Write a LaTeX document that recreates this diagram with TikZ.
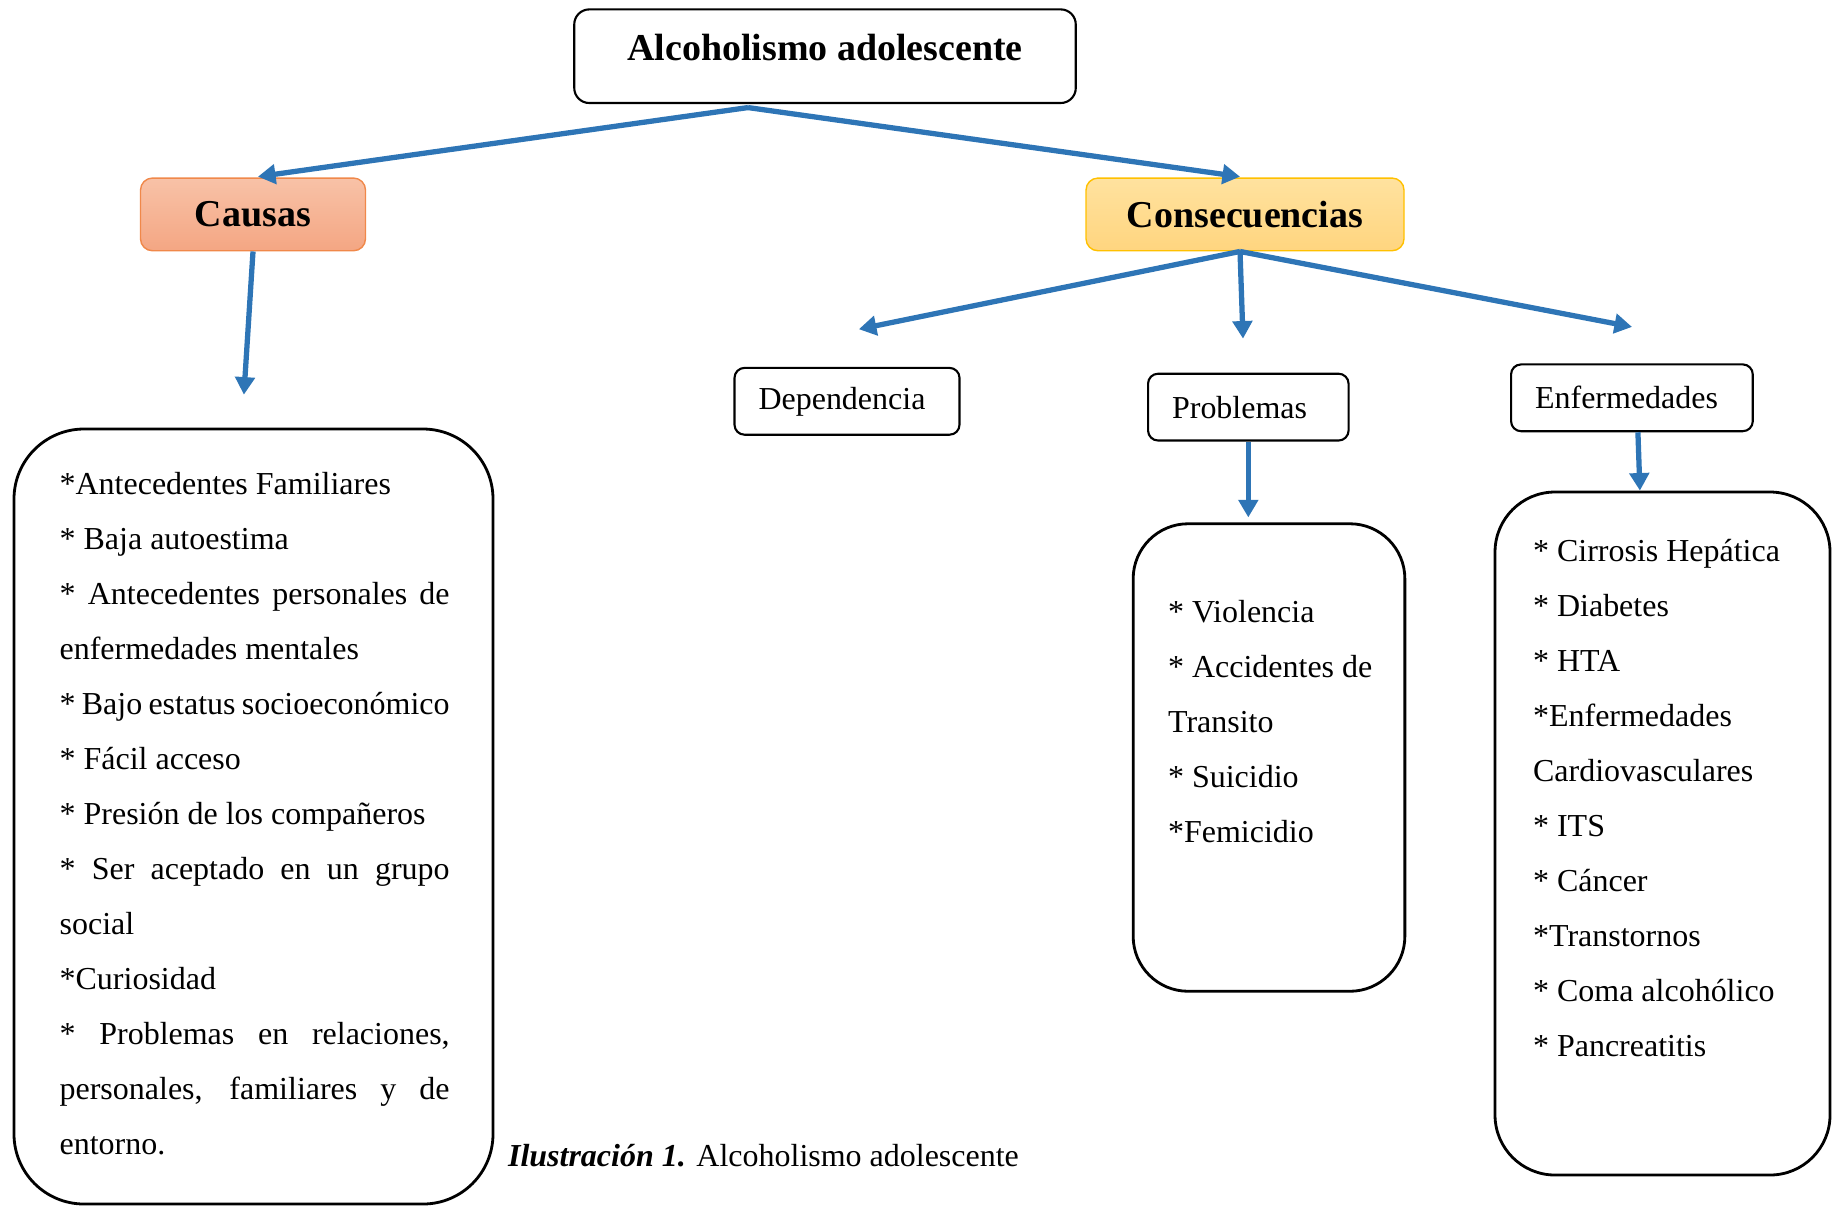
\documentclass[tikz,border=0pt]{standalone}
\usepackage{fontspec}
\setmainfont{Liberation Serif}
\usetikzlibrary{arrows.meta}
\definecolor{azulflecha}{HTML}{2E75B6}
\definecolor{naranjaborde}{HTML}{F0884A}
\definecolor{naranjaarriba}{HTML}{F8C2A7}
\definecolor{naranjaabajo}{HTML}{F4A683}
\definecolor{amarilloborde}{HTML}{FFC000}
\definecolor{amarilloarriba}{HTML}{FFE29F}
\definecolor{amarilloabajo}{HTML}{FFD57F}
\hyphenpenalty=10000
\exhyphenpenalty=10000

\begin{document}
\begin{tikzpicture}[semithick,
caja/.style={draw,rounded corners=0.1cm,minimum height=0.668cm,inner xsep=0.24cm,align=left,
             font=\fontsize{9.1}{11}\selectfont},
rama/.style={draw,thin,rounded corners=0.12cm,minimum height=0.727cm,
             font=\fontsize{10.8}{13}\selectfont\bfseries},
lista/.style={draw,thick},
texto/.style={inner sep=0pt,font=\fontsize{9.1}{15.65}\selectfont}]

\useasboundingbox (0,0) rectangle (18.37,-12.06);
\tikzset{flecha/.style={-{Triangle[width=5.5pt,length=5pt]},azulflecha,line width=1.5pt}}

\node[draw,rounded corners=0.15cm,minimum width=5.015cm,minimum height=0.936cm,
      text height=0.3cm,text depth=0.22cm,font=\fontsize{10.8}{13}\selectfont\bfseries]
      (titulo) at (8.25,-0.562) {Alcoholismo adolescente};
\node[rama,minimum width=2.25cm,draw=naranjaborde,top color=naranjaarriba,bottom color=naranjaabajo]
      (causas) at (2.53,-2.144) {Causas};
\node[rama,minimum width=3.18cm,draw=amarilloborde,top color=amarilloarriba,bottom color=amarilloabajo]
      (consec) at (12.45,-2.144) {Consecuencias};
\node[caja,text width=1.77cm] (dep) at (8.47,-4.013) {Dependencia};
\node[caja,text width=1.525cm] (prob) at (12.483,-4.071) {Problemas};
\node[caja,text width=1.937cm] (enf) at (16.319,-3.978) {Enfermedades};

\node[lista,rounded corners=0.7cm,minimum width=4.79cm,minimum height=7.75cm] (listaCausas) at (2.535,-8.165) {};
\node[lista,rounded corners=0.55cm,minimum width=2.717cm,minimum height=4.675cm] (listaProb) at (12.69,-7.575) {};
\node[lista,rounded corners=0.6cm,minimum width=3.35cm,minimum height=6.83cm] (listaEnf) at (16.625,-8.335) {};

\node[texto,text width=3.9cm,align=justify,anchor=north west] (tCausas) at (0.586,-4.71)
  {*Antecedentes Familiares\par
   * Baja autoestima\par
   * Antecedentes personales de enfermedades mentales\par
   * Bajo estatus socioeconómico\par
   * Fácil acceso\par
   * Presión de los compañeros\par
   * Ser aceptado en un grupo social\par
   *Curiosidad\par
   * Problemas en relaciones, personales, familiares y de entorno.};
\node[texto,align=left,anchor=north west] (tProb) at (11.67,-5.99)
  {* Violencia\\ * Accidentes de\\ Transito\\ * Suicidio\\ *Femicidio};
\node[texto,align=left,anchor=north west] (tEnf) at (15.32,-5.38)
  {* Cirrosis Hepática\\ * Diabetes\\ * HTA\\ *Enfermedades\\ Cardiovasculares\\
   * ITS\\ * Cáncer\\ *Transtornos\\ * Coma alcohólico\\ * Pancreatitis};

\node[texto,anchor=base west] (pie) at (5.07,-11.66)
  {\textbf{\textit{Ilustración 1.}} Alcoholismo adolescente};

\coordinate (origen) at ([xshift=-0.77cm,yshift=-0.035cm]titulo.south);
\coordinate (origen2) at ([xshift=-0.05cm]consec.south);
\coordinate (finDep) at (8.588,-3.292);
\coordinate (finProb) at (12.43,-3.386);
\coordinate (finEnf) at (16.32,-3.269);

\draw[flecha,shorten >=0.05cm] (origen) -- (causas.north);
\draw[flecha,shorten >=0.05cm] (origen) -- (consec.north);
\draw[flecha,shorten >=0.33cm] (causas.south) -- ([xshift=-0.117cm]listaCausas.north);
\draw[flecha] (origen2) -- (finDep);
\draw[flecha] (origen2) -- (finProb);
\draw[flecha] (origen2) -- (finEnf);
\draw[flecha,shorten >=0.05cm] (prob.south) -- (prob.south |- listaProb.north);
\draw[flecha] ([xshift=0.06cm]enf.south) -- ([xshift=0.08cm]enf.south |- listaEnf.north);
\end{tikzpicture}
\end{document}
